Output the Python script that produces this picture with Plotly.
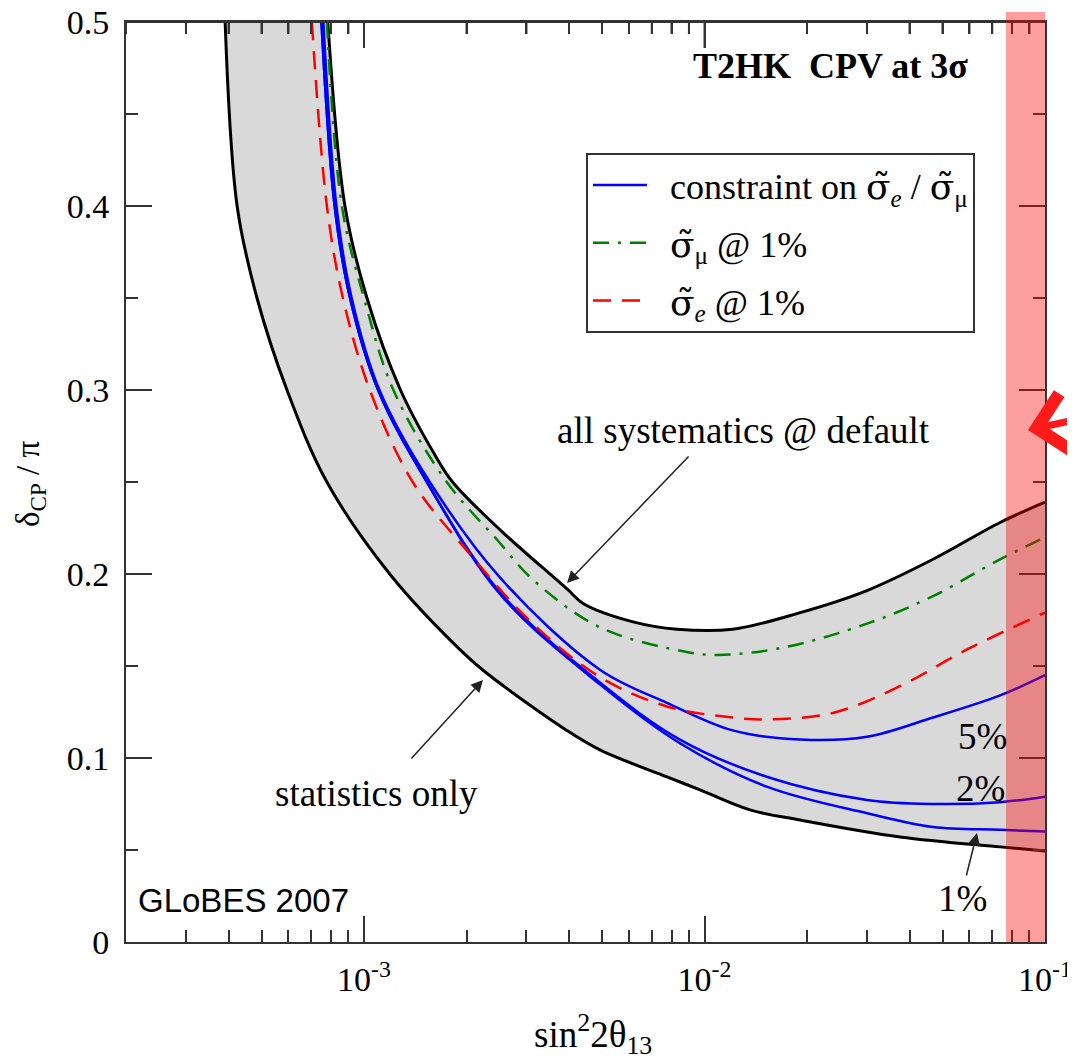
import math
import plotly.graph_objects as go

# ---------------- data ----------------
# lower black curve: statistics only
stat_x = [3.91e-4, 4.24e-4, 4.85e-4, 5.94e-4, 7.78e-4, 1.19e-3, 1.91e-3, 2.26e-3, 3.94e-3,
          4.93e-3, 7.76e-3, 9.7e-3, 1.36e-2, 1.91e-2, 3.75e-2, 7.38e-2, 0.1]
stat_y = [0.5, 0.4, 0.35, 0.3, 0.25, 0.2, 0.159, 0.147, 0.115,
          0.1044, 0.0897, 0.0827, 0.0718, 0.0663, 0.0571, 0.0517, 0.0495]

# upper black curve: all systematics @ default
sys_x = [7.83e-4, 8.79e-4, 1.02e-3, 1.28e-3, 1.60e-3, 1.82e-3, 2.51e-3, 3.94e-3, 4.40e-3,
         6.17e-3, 8.30e-3, 1.21e-2, 1.91e-2, 3.0e-2, 4.69e-2, 7.38e-2, 0.1]
sys_y = [0.5, 0.4, 0.35, 0.3, 0.266, 0.25, 0.224, 0.192, 0.184,
         0.174, 0.170, 0.170, 0.179, 0.191, 0.208, 0.228, 0.239]

# green dash-dot: sigma_mu @ 1%
mu_x = [7.78e-4, 8.61e-4, 1.0e-3, 1.22e-3, 1.75e-3, 2.46e-3, 3.13e-3, 4.93e-3, 8.65e-3,
        1.09e-2, 1.70e-2, 3.0e-2, 4.69e-2, 7.38e-2, 0.1]
mu_y = [0.5, 0.4, 0.35, 0.3, 0.25, 0.2186, 0.197, 0.171, 0.158,
        0.156, 0.160, 0.173, 0.188, 0.208, 0.220]

# red dashed: sigma_e @ 1%
e_x = [7.03e-4, 7.78e-4, 8.67e-4, 1.04e-3, 1.39e-3, 2.0e-3, 3.13e-3, 4.93e-3, 7.76e-3,
       1.21e-2, 1.53e-2, 2.38e-2, 3.75e-2, 5.9e-2, 0.1]
e_y = [0.5, 0.4, 0.35, 0.3, 0.25, 0.213, 0.173, 0.144, 0.128,
       0.122, 0.121, 0.1245, 0.139, 0.159, 0.179]

# blue: constraint on sigma_e / sigma_mu at 5%, 2%, 1%
r5_x = [7.6e-4, 8.3e-4, 9.2e-4, 1.11e-3, 1.56e-3, 2.51e-3, 4.93e-3, 7.76e-3,
        1.21e-2, 1.91e-2, 3.0e-2, 4.69e-2, 7.38e-2, 0.1]
r5_y = [0.5, 0.4, 0.35, 0.3, 0.25, 0.198, 0.148, 0.130,
        0.115, 0.110, 0.1115, 0.122, 0.134, 0.145]

r2_x = [7.5e-4, 8.2e-4, 9.1e-4, 1.10e-3, 1.53e-3, 2.51e-3, 4.93e-3, 8.47e-3,
        1.53e-2, 3.0e-2, 4.69e-2, 7.38e-2, 0.1]
r2_y = [0.5, 0.4, 0.35, 0.3, 0.25, 0.19, 0.141, 0.110,
        0.0897, 0.0772, 0.075, 0.076, 0.079]

r1_x = [7.5e-4, 8.2e-4, 9.1e-4, 1.10e-3, 1.53e-3, 2.51e-3, 4.93e-3, 8.47e-3,
        1.53e-2, 3.0e-2, 4.69e-2, 7.38e-2, 0.1]
r1_y = [0.5, 0.4, 0.35, 0.3, 0.25, 0.189, 0.140, 0.108,
        0.0843, 0.070, 0.0625, 0.061, 0.060]

x_major = [1e-3, 1e-2, 1e-1]
x_major_text = ["10<sup>-3</sup>", "10<sup>-2</sup>", "10<sup>-1</sup>"]
y_major = [0, 0.1, 0.2, 0.3, 0.4, 0.5]
y_major_text = ["0", "0.1", "0.2", "0.3", "0.4", "0.5"]

# ---------------- figure ----------------
SERIF = "Liberation Serif, Times New Roman, serif"
SANS = "Liberation Sans, Arial, sans-serif"
# page body has an 8px margin; plot area placed at screen x 126..1045, y 22..942
W, H = 1067, 1055
L, R, T, B = 118, 30, 14, 121
PW, PH = W - L - R, H - T - B
SX0, SY1 = 126, 942  # screen coords of plot left / bottom
XRANGE = [math.log10(2e-4), -1]
YRANGE = [0, 0.5]


def px(x):
    return (x - SX0) / PW


def py(y):
    return (SY1 - y) / PH


SIG_E = "<span style='font-family:DejaVu Serif'>σ̃</span><sub><i>e</i></sub>"
SIG_MU = "<span style='font-family:DejaVu Serif'>σ̃</span><sub>μ</sub>"

fig = go.Figure()

fig.add_trace(go.Scatter(x=stat_x, y=stat_y, mode="lines", line=dict(color="black", width=3, shape="spline"),
                         showlegend=False, hoverinfo="skip"))
fig.add_trace(go.Scatter(x=sys_x, y=sys_y, mode="lines", line=dict(color="black", width=3, shape="spline"),
                         fill="tonexty", fillcolor="#d9d9d9", showlegend=False, hoverinfo="skip"))

fig.add_trace(go.Scatter(x=r5_x, y=r5_y, mode="lines", line=dict(color="#0000ff", width=2.5, shape="spline"),
                         name="\u00a0\u00a0constraint on " + SIG_E + " / " + SIG_MU, legendgroup="a"))
fig.add_trace(go.Scatter(x=r2_x, y=r2_y, mode="lines", line=dict(color="#0000ff", width=2.5, shape="spline"),
                         showlegend=False, legendgroup="a"))
fig.add_trace(go.Scatter(x=r1_x, y=r1_y, mode="lines", line=dict(color="#0000ff", width=2.5, shape="spline"),
                         showlegend=False, legendgroup="a"))
fig.add_trace(go.Scatter(x=mu_x, y=mu_y, mode="lines",
                         line=dict(color="#008000", width=2.5, shape="spline", dash="16px,9px,3px,9px"),
                         name="\u00a0\u00a0" + SIG_MU + " @ 1%", legendgroup="b"))
fig.add_trace(go.Scatter(x=e_x, y=e_y, mode="lines",
                         line=dict(color="#ff0000", width=2.5, shape="spline", dash="18px,11px"),
                         name="\u00a0\u00a0" + SIG_E + " @ 1%", legendgroup="c"))

minor_x = []
for k in range(-4, -1):
    for m in range(2, 10):
        v = m * 10 ** k
        if 2e-4 <= v <= 0.1:
            minor_x.append(v)

# top-edge tick marks (mirror of the bottom axis ticks), drawn through the axis scale
tick_x, tick_y = [], []
ytop = YRANGE[1]
for v in x_major[:-1]:
    tick_x += [v, v, None]
    tick_y += [ytop, ytop - 26 / PH * (YRANGE[1] - YRANGE[0]), None]
for v in minor_x:
    tick_x += [v, v, None]
    tick_y += [ytop, ytop - 12 / PH * (YRANGE[1] - YRANGE[0]), None]
fig.add_trace(go.Scatter(x=tick_x, y=tick_y, mode="lines", line=dict(color="#333", width=2),
                         showlegend=False, hoverinfo="skip", connectgaps=False))

axis_common = dict(showline=True, linecolor="#333", linewidth=2, ticks="inside", mirror="ticks",
                   tickcolor="#333", tickwidth=2, ticklen=26, showgrid=False, zeroline=False,
                   ticklabeloverflow="allow",
                   tickfont=dict(family=SERIF, size=34, color="black"))

fig.update_layout(
    xaxis=dict(type="log", range=XRANGE, tickmode="array", tickvals=x_major,
               ticktext=x_major_text, ticklabelstandoff=6,
               minor=dict(tickmode="array", tickvals=minor_x, ticks="inside", ticklen=12,
                          tickwidth=2, tickcolor="#333", showgrid=False),
               **axis_common),
    yaxis=dict(range=YRANGE, tickmode="array", tickvals=y_major, ticktext=y_major_text,
               ticklabelstandoff=8,
               minor=dict(dtick=0.05, tick0=0, ticks="inside", ticklen=12, tickwidth=2,
                          tickcolor="#333", showgrid=False),
               **axis_common),
)


def label(x, y, text, size=37, family=SERIF, **kw):
    return dict(x=px(x), y=py(y), xref="paper", yref="paper", showarrow=False, text=text,
                xanchor="center", yanchor="middle", font=dict(family=family, size=size, color="black"), **kw)


def arrow(tipx, tipy, tailx, taily, color="#222", width=1.5, head=2, size=1.6):
    return dict(x=px(tipx), y=py(tipy), xref="paper", yref="paper", showarrow=True, text="",
                ax=tailx - tipx, ay=taily - tipy, arrowhead=head, arrowsize=size,
                arrowwidth=width, arrowcolor=color)


annotations = [
    label(830, 66, "<b>T2HK\u00a0\u00a0CPV at 3σ</b>", size=36),
    label(243, 900, "GLoBES 2007", size=33, family=SANS),
    label(743, 430, "all systematics @ default"),
    arrow(567, 583, 690, 455),
    label(376, 793, "statistics only"),
    arrow(483, 680, 410, 760),
    label(982, 736, "5%"),
    label(980, 788, "2%"),
    label(962, 898, "1%"),
    arrow(977, 833, 966, 877),
    label(593, 1034, "sin<sup>2</sup>2θ<sub>13</sub>", size=37),
    label(30, 484, "δ<sub>CP</sub> / π", size=33, textangle=-90),
    arrow(1028, 430, 1090, 420, color="#ff1a1a", width=7, head=4, size=1.6),
]

shapes = [
    dict(type="line", xref="paper", yref="paper", x0=0, x1=1, y0=1, y1=1,
         line=dict(color="#333", width=2), layer="above"),
    dict(type="rect", xref="paper", yref="paper", x0=px(1006), x1=px(1045), y0=0, y1=py(12),
         fillcolor="rgba(255,0,0,0.38)", line=dict(width=0), layer="above"),
]

fig.update_layout(
    width=W, height=H,
    margin=dict(l=L, r=R, t=T, b=B, autoexpand=False),
    paper_bgcolor="white", plot_bgcolor="white",
    annotations=annotations, shapes=shapes,
    legend=dict(x=px(586), y=py(153), xanchor="left", yanchor="top", bgcolor="white",
                bordercolor="#333", borderwidth=2, font=dict(family=SERIF, size=36, color="black"),
                itemwidth=54, tracegroupgap=8, traceorder="grouped"),
    showlegend=True,
)

fig.write_html("out.html")
